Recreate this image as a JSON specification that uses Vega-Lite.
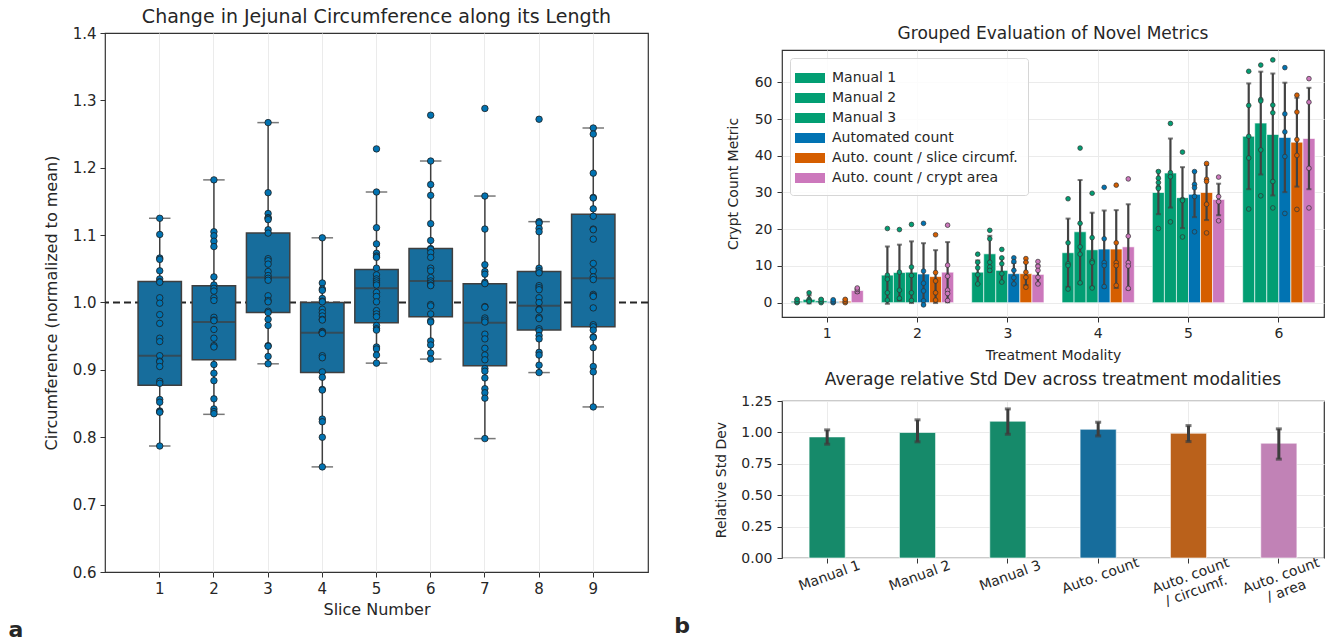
{
"$schema": "https://vega.github.io/schema/vega-lite/v6.json",
"padding": {"left": 8, "top": 7, "right": 4, "bottom": 2},
"config": {
 "font": "DejaVu Sans",
 "view": {"stroke": "#333333", "strokeWidth": 1.2},
 "axis": {"labelFontSize": 14, "titleFontSize": 14, "titleFontWeight": "normal", "labelColor": "#262626", "titleColor": "#262626", "gridColor": "#ebebeb", "gridWidth": 1, "domain": false, "tickColor": "#333333", "tickSize": 5, "labelPadding": 4, "labelOverlap": false},
 "title": {"fontSize": 17, "fontWeight": "normal", "color": "#262626", "offset": 8}
},
"align": "none",
"resolve": {"scale": {"color": "independent", "fill": "independent"}, "legend": {"color": "independent", "fill": "independent"}},
"spacing": 24,
"datasets": {
 "slices": [
  {"slice": 1, "q1": 0.877, "median": 0.921, "q3": 1.031, "lo": 0.787, "hi": 1.125},
  {"slice": 2, "q1": 0.915, "median": 0.971, "q3": 1.025, "lo": 0.834, "hi": 1.182},
  {"slice": 3, "q1": 0.985, "median": 1.037, "q3": 1.103, "lo": 0.909, "hi": 1.267},
  {"slice": 4, "q1": 0.896, "median": 0.955, "q3": 1.000, "lo": 0.756, "hi": 1.096},
  {"slice": 5, "q1": 0.970, "median": 1.021, "q3": 1.049, "lo": 0.910, "hi": 1.164},
  {"slice": 6, "q1": 0.979, "median": 1.032, "q3": 1.080, "lo": 0.916, "hi": 1.210},
  {"slice": 7, "q1": 0.906, "median": 0.970, "q3": 1.028, "lo": 0.798, "hi": 1.158},
  {"slice": 8, "q1": 0.959, "median": 0.995, "q3": 1.046, "lo": 0.896, "hi": 1.120},
  {"slice": 9, "q1": 0.964, "median": 1.036, "q3": 1.131, "lo": 0.845, "hi": 1.259}
 ],
 "slicePts": [
  {"slice":1,"value":1.125},{"slice":1,"value":1.101},{"slice":1,"value":1.066},{"slice":1,"value":1.064},{"slice":1,"value":1.047},{"slice":1,"value":1.035},{"slice":1,"value":1.031},{"slice":1,"value":1.030},{"slice":1,"value":1.007},{"slice":1,"value":0.999},{"slice":1,"value":0.982},{"slice":1,"value":0.969},{"slice":1,"value":0.947},{"slice":1,"value":0.942},{"slice":1,"value":0.921},{"slice":1,"value":0.913},{"slice":1,"value":0.912},{"slice":1,"value":0.905},{"slice":1,"value":0.883},{"slice":1,"value":0.880},{"slice":1,"value":0.856},{"slice":1,"value":0.852},{"slice":1,"value":0.839},{"slice":1,"value":0.838},{"slice":1,"value":0.837},{"slice":1,"value":0.787},
  {"slice":2,"value":1.182},{"slice":2,"value":1.105},{"slice":2,"value":1.099},{"slice":2,"value":1.091},{"slice":2,"value":1.083},{"slice":2,"value":1.038},{"slice":2,"value":1.026},{"slice":2,"value":1.021},{"slice":2,"value":1.017},{"slice":2,"value":1.007},{"slice":2,"value":1.003},{"slice":2,"value":0.978},{"slice":2,"value":0.974},{"slice":2,"value":0.973},{"slice":2,"value":0.960},{"slice":2,"value":0.947},{"slice":2,"value":0.936},{"slice":2,"value":0.934},{"slice":2,"value":0.908},{"slice":2,"value":0.895},{"slice":2,"value":0.884},{"slice":2,"value":0.857},{"slice":2,"value":0.842},{"slice":2,"value":0.838},{"slice":2,"value":0.835},
  {"slice":3,"value":1.267},{"slice":3,"value":1.163},{"slice":3,"value":1.132},{"slice":3,"value":1.126},{"slice":3,"value":1.125},{"slice":3,"value":1.123},{"slice":3,"value":1.108},{"slice":3,"value":1.103},{"slice":3,"value":1.065},{"slice":3,"value":1.062},{"slice":3,"value":1.057},{"slice":3,"value":1.046},{"slice":3,"value":1.040},{"slice":3,"value":1.036},{"slice":3,"value":1.033},{"slice":3,"value":1.010},{"slice":3,"value":1.003},{"slice":3,"value":1.001},{"slice":3,"value":0.987},{"slice":3,"value":0.985},{"slice":3,"value":0.975},{"slice":3,"value":0.966},{"slice":3,"value":0.936},{"slice":3,"value":0.935},{"slice":3,"value":0.920},{"slice":3,"value":0.909},
  {"slice":4,"value":1.096},{"slice":4,"value":1.029},{"slice":4,"value":1.020},{"slice":4,"value":1.018},{"slice":4,"value":1.006},{"slice":4,"value":1.002},{"slice":4,"value":1.001},{"slice":4,"value":0.990},{"slice":4,"value":0.985},{"slice":4,"value":0.980},{"slice":4,"value":0.975},{"slice":4,"value":0.974},{"slice":4,"value":0.957},{"slice":4,"value":0.956},{"slice":4,"value":0.955},{"slice":4,"value":0.954},{"slice":4,"value":0.921},{"slice":4,"value":0.918},{"slice":4,"value":0.897},{"slice":4,"value":0.889},{"slice":4,"value":0.871},{"slice":4,"value":0.870},{"slice":4,"value":0.827},{"slice":4,"value":0.823},{"slice":4,"value":0.800},{"slice":4,"value":0.756},
  {"slice":5,"value":1.228},{"slice":5,"value":1.164},{"slice":5,"value":1.111},{"slice":5,"value":1.087},{"slice":5,"value":1.073},{"slice":5,"value":1.069},{"slice":5,"value":1.067},{"slice":5,"value":1.051},{"slice":5,"value":1.041},{"slice":5,"value":1.035},{"slice":5,"value":1.032},{"slice":5,"value":1.029},{"slice":5,"value":1.026},{"slice":5,"value":1.015},{"slice":5,"value":1.009},{"slice":5,"value":1.001},{"slice":5,"value":0.988},{"slice":5,"value":0.983},{"slice":5,"value":0.979},{"slice":5,"value":0.966},{"slice":5,"value":0.961},{"slice":5,"value":0.959},{"slice":5,"value":0.934},{"slice":5,"value":0.931},{"slice":5,"value":0.922},{"slice":5,"value":0.910},
  {"slice":6,"value":1.278},{"slice":6,"value":1.210},{"slice":6,"value":1.175},{"slice":6,"value":1.159},{"slice":6,"value":1.117},{"slice":6,"value":1.092},{"slice":6,"value":1.080},{"slice":6,"value":1.079},{"slice":6,"value":1.074},{"slice":6,"value":1.067},{"slice":6,"value":1.051},{"slice":6,"value":1.047},{"slice":6,"value":1.037},{"slice":6,"value":1.032},{"slice":6,"value":1.029},{"slice":6,"value":1.026},{"slice":6,"value":1.025},{"slice":6,"value":0.997},{"slice":6,"value":0.995},{"slice":6,"value":0.983},{"slice":6,"value":0.973},{"slice":6,"value":0.971},{"slice":6,"value":0.943},{"slice":6,"value":0.937},{"slice":6,"value":0.925},{"slice":6,"value":0.916},
  {"slice":7,"value":1.288},{"slice":7,"value":1.158},{"slice":7,"value":1.109},{"slice":7,"value":1.056},{"slice":7,"value":1.046},{"slice":7,"value":1.042},{"slice":7,"value":1.030},{"slice":7,"value":1.028},{"slice":7,"value":0.994},{"slice":7,"value":0.993},{"slice":7,"value":0.977},{"slice":7,"value":0.974},{"slice":7,"value":0.971},{"slice":7,"value":0.953},{"slice":7,"value":0.946},{"slice":7,"value":0.932},{"slice":7,"value":0.922},{"slice":7,"value":0.915},{"slice":7,"value":0.902},{"slice":7,"value":0.898},{"slice":7,"value":0.888},{"slice":7,"value":0.872},{"slice":7,"value":0.866},{"slice":7,"value":0.858},{"slice":7,"value":0.798},
  {"slice":8,"value":1.272},{"slice":8,"value":1.120},{"slice":8,"value":1.118},{"slice":8,"value":1.110},{"slice":8,"value":1.105},{"slice":8,"value":1.051},{"slice":8,"value":1.047},{"slice":8,"value":1.044},{"slice":8,"value":1.025},{"slice":8,"value":1.022},{"slice":8,"value":1.019},{"slice":8,"value":1.007},{"slice":8,"value":1.000},{"slice":8,"value":0.990},{"slice":8,"value":0.989},{"slice":8,"value":0.978},{"slice":8,"value":0.976},{"slice":8,"value":0.961},{"slice":8,"value":0.958},{"slice":8,"value":0.951},{"slice":8,"value":0.946},{"slice":8,"value":0.926},{"slice":8,"value":0.922},{"slice":8,"value":0.907},{"slice":8,"value":0.896},
  {"slice":9,"value":1.259},{"slice":9,"value":1.250},{"slice":9,"value":1.192},{"slice":9,"value":1.156},{"slice":9,"value":1.155},{"slice":9,"value":1.139},{"slice":9,"value":1.128},{"slice":9,"value":1.109},{"slice":9,"value":1.108},{"slice":9,"value":1.094},{"slice":9,"value":1.058},{"slice":9,"value":1.047},{"slice":9,"value":1.038},{"slice":9,"value":1.034},{"slice":9,"value":1.012},{"slice":9,"value":1.010},{"slice":9,"value":1.009},{"slice":9,"value":0.992},{"slice":9,"value":0.967},{"slice":9,"value":0.964},{"slice":9,"value":0.959},{"slice":9,"value":0.949},{"slice":9,"value":0.948},{"slice":9,"value":0.933},{"slice":9,"value":0.905},{"slice":9,"value":0.897},{"slice":9,"value":0.845}
 ],
 "groups": [
  {"modality":1,"series":"Manual 1","mean":0.4,"lo":-0.1,"hi":0.9},
  {"modality":1,"series":"Manual 2","mean":0.9,"lo":-0.2,"hi":2.0},
  {"modality":1,"series":"Manual 3","mean":0.5,"lo":0.0,"hi":1.0},
  {"modality":1,"series":"Automated count","mean":0.3,"lo":-0.1,"hi":0.7},
  {"modality":1,"series":"Auto. count / slice circumf.","mean":0.4,"lo":-0.1,"hi":0.9},
  {"modality":1,"series":"Auto. count / crypt area","mean":3.3,"lo":2.7,"hi":3.9},
  {"modality":2,"series":"Manual 1","mean":7.5,"lo":-0.3,"hi":15.3},
  {"modality":2,"series":"Manual 2","mean":8.2,"lo":0.6,"hi":15.8},
  {"modality":2,"series":"Manual 3","mean":8.3,"lo":-0.1,"hi":16.7},
  {"modality":2,"series":"Automated count","mean":7.8,"lo":-0.6,"hi":16.2},
  {"modality":2,"series":"Auto. count / slice circumf.","mean":7.1,"lo":-0.1,"hi":14.3},
  {"modality":2,"series":"Auto. count / crypt area","mean":8.3,"lo":0.1,"hi":16.5},
  {"modality":3,"series":"Manual 1","mean":8.3,"lo":5.1,"hi":11.5},
  {"modality":3,"series":"Manual 2","mean":13.3,"lo":8.4,"hi":18.2},
  {"modality":3,"series":"Manual 3","mean":8.8,"lo":5.6,"hi":12.0},
  {"modality":3,"series":"Automated count","mean":7.9,"lo":5.0,"hi":10.8},
  {"modality":3,"series":"Auto. count / slice circumf.","mean":7.9,"lo":4.8,"hi":11.0},
  {"modality":3,"series":"Auto. count / crypt area","mean":7.7,"lo":5.2,"hi":10.2},
  {"modality":4,"series":"Manual 1","mean":13.6,"lo":4.3,"hi":22.9},
  {"modality":4,"series":"Manual 2","mean":19.3,"lo":5.2,"hi":33.4},
  {"modality":4,"series":"Manual 3","mean":14.4,"lo":4.3,"hi":24.5},
  {"modality":4,"series":"Automated count","mean":14.6,"lo":4.1,"hi":25.1},
  {"modality":4,"series":"Auto. count / slice circumf.","mean":14.6,"lo":4.0,"hi":25.2},
  {"modality":4,"series":"Auto. count / crypt area","mean":15.2,"lo":3.6,"hi":26.8},
  {"modality":5,"series":"Manual 1","mean":30.0,"lo":24.1,"hi":35.9},
  {"modality":5,"series":"Manual 2","mean":35.3,"lo":25.9,"hi":44.7},
  {"modality":5,"series":"Manual 3","mean":28.6,"lo":20.3,"hi":36.9},
  {"modality":5,"series":"Automated count","mean":29.5,"lo":23.3,"hi":35.7},
  {"modality":5,"series":"Auto. count / slice circumf.","mean":30.0,"lo":22.5,"hi":37.5},
  {"modality":5,"series":"Auto. count / crypt area","mean":28.1,"lo":23.8,"hi":32.4},
  {"modality":6,"series":"Manual 1","mean":45.3,"lo":30.9,"hi":59.7},
  {"modality":6,"series":"Manual 2","mean":48.9,"lo":34.9,"hi":62.9},
  {"modality":6,"series":"Manual 3","mean":45.8,"lo":29.2,"hi":62.4},
  {"modality":6,"series":"Automated count","mean":45.0,"lo":30.1,"hi":59.9},
  {"modality":6,"series":"Auto. count / slice circumf.","mean":43.7,"lo":31.6,"hi":55.8},
  {"modality":6,"series":"Auto. count / crypt area","mean":44.7,"lo":30.9,"hi":58.5}
 ],
 "groupPts": [
  {"modality":1,"series":"Manual 1","value":0},{"modality":1,"series":"Manual 1","value":0.3},{"modality":1,"series":"Manual 1","value":0.9},
  {"modality":1,"series":"Manual 2","value":2.7},{"modality":1,"series":"Manual 2","value":0.9},{"modality":1,"series":"Manual 2","value":0.6},{"modality":1,"series":"Manual 2","value":0.3},
  {"modality":1,"series":"Manual 3","value":0},{"modality":1,"series":"Manual 3","value":0.4},{"modality":1,"series":"Manual 3","value":0.9},
  {"modality":1,"series":"Automated count","value":0},{"modality":1,"series":"Automated count","value":0.3},{"modality":1,"series":"Automated count","value":0.8},
  {"modality":1,"series":"Auto. count / slice circumf.","value":0},{"modality":1,"series":"Auto. count / slice circumf.","value":0.4},{"modality":1,"series":"Auto. count / slice circumf.","value":0.9},
  {"modality":1,"series":"Auto. count / crypt area","value":3.0},{"modality":1,"series":"Auto. count / crypt area","value":3.6},{"modality":1,"series":"Auto. count / crypt area","value":4.0},
  {"modality":2,"series":"Manual 1","value":20.2},{"modality":2,"series":"Manual 1","value":7.5},{"modality":2,"series":"Manual 1","value":6.4},{"modality":2,"series":"Manual 1","value":2.7},{"modality":2,"series":"Manual 1","value":0.7},
  {"modality":2,"series":"Manual 2","value":19.9},{"modality":2,"series":"Manual 2","value":8.3},{"modality":2,"series":"Manual 2","value":3.4},{"modality":2,"series":"Manual 2","value":1.2},
  {"modality":2,"series":"Manual 3","value":21.3},{"modality":2,"series":"Manual 3","value":9.7},{"modality":2,"series":"Manual 3","value":7.4},{"modality":2,"series":"Manual 3","value":2.7},{"modality":2,"series":"Manual 3","value":0.6},
  {"modality":2,"series":"Automated count","value":21.6},{"modality":2,"series":"Automated count","value":8.6},{"modality":2,"series":"Automated count","value":5.3},{"modality":2,"series":"Automated count","value":3.2},{"modality":2,"series":"Automated count","value":0.5},{"modality":2,"series":"Automated count","value":-0.6},
  {"modality":2,"series":"Auto. count / slice circumf.","value":18.5},{"modality":2,"series":"Auto. count / slice circumf.","value":8.2},{"modality":2,"series":"Auto. count / slice circumf.","value":5.9},{"modality":2,"series":"Auto. count / slice circumf.","value":2.7},{"modality":2,"series":"Auto. count / slice circumf.","value":0.7},
  {"modality":2,"series":"Auto. count / crypt area","value":21.1},{"modality":2,"series":"Auto. count / crypt area","value":10.2},{"modality":2,"series":"Auto. count / crypt area","value":7.2},{"modality":2,"series":"Auto. count / crypt area","value":3.4},{"modality":2,"series":"Auto. count / crypt area","value":2.5},{"modality":2,"series":"Auto. count / crypt area","value":0.6},
  {"modality":3,"series":"Manual 1","value":13.2},{"modality":3,"series":"Manual 1","value":11.0},{"modality":3,"series":"Manual 1","value":9.5},{"modality":3,"series":"Manual 1","value":7.6},{"modality":3,"series":"Manual 1","value":5.1},
  {"modality":3,"series":"Manual 2","value":19.7},{"modality":3,"series":"Manual 2","value":17.4},{"modality":3,"series":"Manual 2","value":11.0},{"modality":3,"series":"Manual 2","value":9.7},{"modality":3,"series":"Manual 2","value":8.8},
  {"modality":3,"series":"Manual 3","value":14.5},{"modality":3,"series":"Manual 3","value":12.2},{"modality":3,"series":"Manual 3","value":10.6},{"modality":3,"series":"Manual 3","value":7.9},{"modality":3,"series":"Manual 3","value":5.6},
  {"modality":3,"series":"Automated count","value":12.2},{"modality":3,"series":"Automated count","value":11.2},{"modality":3,"series":"Automated count","value":8.8},{"modality":3,"series":"Automated count","value":6.8},{"modality":3,"series":"Automated count","value":5.1},
  {"modality":3,"series":"Auto. count / slice circumf.","value":12.0},{"modality":3,"series":"Auto. count / slice circumf.","value":11.0},{"modality":3,"series":"Auto. count / slice circumf.","value":8.3},{"modality":3,"series":"Auto. count / slice circumf.","value":6.9},{"modality":3,"series":"Auto. count / slice circumf.","value":4.2},
  {"modality":3,"series":"Auto. count / crypt area","value":11.2},{"modality":3,"series":"Auto. count / crypt area","value":9.9},{"modality":3,"series":"Auto. count / crypt area","value":8.8},{"modality":3,"series":"Auto. count / crypt area","value":6.9},{"modality":3,"series":"Auto. count / crypt area","value":5.1},
  {"modality":4,"series":"Manual 1","value":28.3},{"modality":4,"series":"Manual 1","value":16.3},{"modality":4,"series":"Manual 1","value":10.6},{"modality":4,"series":"Manual 1","value":10.1},{"modality":4,"series":"Manual 1","value":3.7},
  {"modality":4,"series":"Manual 2","value":42.1},{"modality":4,"series":"Manual 2","value":21.6},{"modality":4,"series":"Manual 2","value":15.2},{"modality":4,"series":"Manual 2","value":13.2},{"modality":4,"series":"Manual 2","value":5.4},
  {"modality":4,"series":"Manual 3","value":29.8},{"modality":4,"series":"Manual 3","value":17.7},{"modality":4,"series":"Manual 3","value":11.3},{"modality":4,"series":"Manual 3","value":10.9},{"modality":4,"series":"Manual 3","value":4.0},
  {"modality":4,"series":"Automated count","value":31.4},{"modality":4,"series":"Automated count","value":17.4},{"modality":4,"series":"Automated count","value":10.9},{"modality":4,"series":"Automated count","value":10.1},{"modality":4,"series":"Automated count","value":4.4},
  {"modality":4,"series":"Auto. count / slice circumf.","value":32.0},{"modality":4,"series":"Auto. count / slice circumf.","value":16.3},{"modality":4,"series":"Auto. count / slice circumf.","value":10.9},{"modality":4,"series":"Auto. count / slice circumf.","value":10.1},{"modality":4,"series":"Auto. count / slice circumf.","value":4.7},
  {"modality":4,"series":"Auto. count / crypt area","value":33.7},{"modality":4,"series":"Auto. count / crypt area","value":18.1},{"modality":4,"series":"Auto. count / crypt area","value":10.9},{"modality":4,"series":"Auto. count / crypt area","value":10.0},{"modality":4,"series":"Auto. count / crypt area","value":3.9},
  {"modality":5,"series":"Manual 1","value":35.7},{"modality":5,"series":"Manual 1","value":33.9},{"modality":5,"series":"Manual 1","value":32.7},{"modality":5,"series":"Manual 1","value":31.4},{"modality":5,"series":"Manual 1","value":31.1},{"modality":5,"series":"Manual 1","value":20.2},
  {"modality":5,"series":"Manual 2","value":48.8},{"modality":5,"series":"Manual 2","value":35.4},{"modality":5,"series":"Manual 2","value":34.3},{"modality":5,"series":"Manual 2","value":22.0},
  {"modality":5,"series":"Manual 3","value":41.0},{"modality":5,"series":"Manual 3","value":28.1},{"modality":5,"series":"Manual 3","value":27.8},{"modality":5,"series":"Manual 3","value":17.9},
  {"modality":5,"series":"Automated count","value":35.7},{"modality":5,"series":"Automated count","value":32.2},{"modality":5,"series":"Automated count","value":31.3},{"modality":5,"series":"Automated count","value":28.9},{"modality":5,"series":"Automated count","value":19.3},
  {"modality":5,"series":"Auto. count / slice circumf.","value":37.9},{"modality":5,"series":"Auto. count / slice circumf.","value":33.6},{"modality":5,"series":"Auto. count / slice circumf.","value":33.0},{"modality":5,"series":"Auto. count / slice circumf.","value":26.8},{"modality":5,"series":"Auto. count / slice circumf.","value":19.0},
  {"modality":5,"series":"Auto. count / crypt area","value":34.2},{"modality":5,"series":"Auto. count / crypt area","value":28.9},{"modality":5,"series":"Auto. count / crypt area","value":27.5},{"modality":5,"series":"Auto. count / crypt area","value":22.3},
  {"modality":6,"series":"Manual 1","value":63.0},{"modality":6,"series":"Manual 1","value":53.7},{"modality":6,"series":"Manual 1","value":45.3},{"modality":6,"series":"Manual 1","value":39.4},{"modality":6,"series":"Manual 1","value":25.5},
  {"modality":6,"series":"Manual 2","value":64.7},{"modality":6,"series":"Manual 2","value":55.3},{"modality":6,"series":"Manual 2","value":54.9},{"modality":6,"series":"Manual 2","value":41.6},{"modality":6,"series":"Manual 2","value":29.1},
  {"modality":6,"series":"Manual 3","value":66.1},{"modality":6,"series":"Manual 3","value":53.8},{"modality":6,"series":"Manual 3","value":51.7},{"modality":6,"series":"Manual 3","value":33.0},{"modality":6,"series":"Manual 3","value":25.8},
  {"modality":6,"series":"Automated count","value":64.0},{"modality":6,"series":"Automated count","value":51.4},{"modality":6,"series":"Automated count","value":46.5},{"modality":6,"series":"Automated count","value":39.8},{"modality":6,"series":"Automated count","value":24.3},
  {"modality":6,"series":"Auto. count / slice circumf.","value":56.5},{"modality":6,"series":"Auto. count / slice circumf.","value":51.9},{"modality":6,"series":"Auto. count / slice circumf.","value":44.4},{"modality":6,"series":"Auto. count / slice circumf.","value":40.1},{"modality":6,"series":"Auto. count / slice circumf.","value":25.4},
  {"modality":6,"series":"Auto. count / crypt area","value":61.0},{"modality":6,"series":"Auto. count / crypt area","value":54.6},{"modality":6,"series":"Auto. count / crypt area","value":36.6},{"modality":6,"series":"Auto. count / crypt area","value":25.8}
 ],
 "relstd": [
  {"metric":"Manual 1","mean":0.964,"lo":0.906,"hi":1.020},
  {"metric":"Manual 2","mean":0.999,"lo":0.925,"hi":1.100},
  {"metric":"Manual 3","mean":1.089,"lo":0.985,"hi":1.187},
  {"metric":"Auto. count","mean":1.025,"lo":0.972,"hi":1.081},
  {"metric":"Auto. count|/ circumf.","mean":0.993,"lo":0.927,"hi":1.054},
  {"metric":"Auto. count|/ area","mean":0.914,"lo":0.787,"hi":1.028}
 ]
},
"hconcat": [
 {
  "title": {"text": "a", "orient": "bottom", "anchor": "start", "fontSize": 22, "fontWeight": "bold", "offset": 2, "dx": -34},
  "vconcat": [
   {
    "width": 543, "height": 539,
    "title": {"text": "Change in Jejunal Circumference along its Length", "fontSize": 19, "offset": -1},
    "layer": [
     {"data": {"values": [{}]}, "mark": {"type": "rule", "strokeDash": [7, 4], "strokeWidth": 2, "color": "#262626"}, "encoding": {"y": {"datum": 1, "type": "quantitative"}}},
     {"data": {"name": "slices"}, "mark": {"type": "rule", "color": "#3f3f3f", "strokeWidth": 1.5},
      "encoding": {
       "x": {"field": "slice", "type": "ordinal", "scale": {"paddingInner": 0.2, "paddingOuter": 0.61}, "axis": {"title": "Slice Number", "labelAngle": 0, "grid": true, "labelFontSize": 15, "titleFontSize": 16, "titlePadding": 5}},
       "y": {"field": "lo", "type": "quantitative", "scale": {"domain": [0.6, 1.4], "nice": false, "zero": false}, "axis": {"title": "Circumference (normalized to mean)", "values": [0.6, 0.7, 0.8, 0.9, 1.0, 1.1, 1.2, 1.3, 1.4], "format": ".1f", "labelFontSize": 15, "titleFontSize": 16, "titlePadding": 13, "labelOverlap": false}},
       "y2": {"field": "hi"}}},
     {"data": {"name": "slices"}, "mark": {"type": "bar", "fill": "#176d9c", "stroke": "#3f3f3f", "strokeWidth": 1.5},
      "encoding": {"x": {"field": "slice", "type": "ordinal"}, "y": {"field": "q1", "type": "quantitative"}, "y2": {"field": "q3"}}},
     {"data": {"name": "slices"}, "mark": {"type": "tick", "color": "#3f3f3f", "thickness": 2, "size": 43},
      "encoding": {"x": {"field": "slice", "type": "ordinal"}, "y": {"field": "median", "type": "quantitative"}}},
     {"data": {"name": "slices"}, "mark": {"type": "tick", "color": "#3f3f3f", "thickness": 1.5, "size": 21.5},
      "encoding": {"x": {"field": "slice", "type": "ordinal"}, "y": {"field": "lo", "type": "quantitative"}}},
     {"data": {"name": "slices"}, "mark": {"type": "tick", "color": "#3f3f3f", "thickness": 1.5, "size": 21.5},
      "encoding": {"x": {"field": "slice", "type": "ordinal"}, "y": {"field": "hi", "type": "quantitative"}}},
     {"data": {"name": "slicePts"}, "mark": {"type": "circle", "fill": "#0173b2", "stroke": "#1e1e1e", "strokeWidth": 0.8, "size": 42, "opacity": 1},
      "encoding": {"x": {"field": "slice", "type": "ordinal"}, "y": {"field": "value", "type": "quantitative"}}}
    ]
   }
  ]
 },
 {
  "title": {"text": "b", "orient": "bottom", "anchor": "start", "fontSize": 22, "fontWeight": "bold", "offset": 4, "dx": -40},
  "resolve": {"scale": {"color": "independent", "fill": "independent"}, "legend": {"color": "independent", "fill": "independent"}},
  "spacing": 7,
  "vconcat": [
   {
    "width": 542, "height": 1,
    "view": {"stroke": null},
    "title": {"text": "Grouped Evaluation of Novel Metrics", "orient": "bottom", "baseline": "middle", "offset": 0},
    "data": {"values": [{}]},
    "mark": {"type": "rule", "opacity": 0},
    "encoding": {}
   },
   {
    "width": 542, "height": 267,
    "layer": [
     {"data": {"name": "groups"}, "mark": {"type": "bar", "stroke": "white", "strokeWidth": 0.6},
      "encoding": {
       "x": {"field": "modality", "type": "ordinal", "scale": {"paddingInner": 0.2, "paddingOuter": 0.1}, "axis": {"title": "Treatment Modality", "labelAngle": 0, "grid": true, "titlePadding": 8}},
       "xOffset": {"field": "series", "type": "nominal", "scale": {"domain": ["Manual 1", "Manual 2", "Manual 3", "Automated count", "Auto. count / slice circumf.", "Auto. count / crypt area"]}},
       "y": {"field": "mean", "type": "quantitative", "scale": {"domain": [-3.9, 68.8], "nice": false}, "axis": {"title": "Crypt Count Metric", "values": [0, 10, 20, 30, 40, 50, 60], "labelPadding": 5, "titlePadding": 14}},
       "color": {"field": "series", "type": "nominal", "scale": {"domain": ["Manual 1", "Manual 2", "Manual 3", "Automated count", "Auto. count / slice circumf.", "Auto. count / crypt area"], "range": ["#029e73", "#029e73", "#029e73", "#0173b2", "#d55e00", "#cc78bc"]},
        "legend": {"title": null, "orient": "top-left", "offset": 8, "symbolType": "M-1.5,-0.5H1.5V0.5H-1.5Z", "symbolSize": 400, "symbolStrokeWidth": 0, "labelFontSize": 14, "labelColor": "#262626", "labelOffset": 12, "rowPadding": 3, "padding": 10, "fillColor": "rgba(255,255,255,0.85)", "strokeColor": "#d6d6d6", "cornerRadius": 3, "labelLimit": 300}}}},
     {"data": {"name": "groups"}, "mark": {"type": "rule", "color": "#424242", "strokeWidth": 2.2},
      "encoding": {"x": {"field": "modality", "type": "ordinal"}, "xOffset": {"field": "series", "type": "nominal"}, "y": {"field": "lo", "type": "quantitative"}, "y2": {"field": "hi"}}},
     {"data": {"name": "groups"}, "mark": {"type": "tick", "color": "#424242", "thickness": 2, "size": 5},
      "encoding": {"x": {"field": "modality", "type": "ordinal"}, "xOffset": {"field": "series", "type": "nominal"}, "y": {"field": "hi", "type": "quantitative"}}},
     {"data": {"name": "groups"}, "mark": {"type": "tick", "color": "#424242", "thickness": 2, "size": 5},
      "encoding": {"x": {"field": "modality", "type": "ordinal"}, "xOffset": {"field": "series", "type": "nominal"}, "y": {"field": "lo", "type": "quantitative"}}},
     {"data": {"name": "groupPts"}, "mark": {"type": "circle", "size": 22, "stroke": "#333333", "strokeWidth": 0.7, "opacity": 1},
      "encoding": {"x": {"field": "modality", "type": "ordinal"}, "xOffset": {"field": "series", "type": "nominal"}, "y": {"field": "value", "type": "quantitative"},
       "fill": {"field": "series", "type": "nominal", "scale": {"domain": ["Manual 1", "Manual 2", "Manual 3", "Automated count", "Auto. count / slice circumf.", "Auto. count / crypt area"], "range": ["#029e73", "#029e73", "#029e73", "#0173b2", "#d55e00", "#cc78bc"]}, "legend": null}}}
    ]
   },
   {
    "width": 542, "height": 157,
    "title": {"text": "Average relative Std Dev across treatment modalities", "offset": 5},
    "layer": [
     {"data": {"name": "relstd"}, "mark": {"type": "bar", "stroke": "white", "strokeWidth": 0.6},
      "encoding": {
       "x": {"field": "metric", "type": "ordinal", "sort": null, "scale": {"paddingInner": 0.6, "paddingOuter": 0.3}, "axis": {"title": null, "labelAngle": -20, "labelAlign": "center", "labelBaseline": "top", "labelPadding": 6, "labelExpr": "split(datum.label, '|')", "grid": true}},
       "y": {"field": "mean", "type": "quantitative", "scale": {"domain": [0, 1.25], "nice": false}, "axis": {"title": "Relative Std Dev", "values": [0, 0.25, 0.5, 0.75, 1.0, 1.25], "format": ".2f", "labelOverlap": false, "labelPadding": 5, "titlePadding": 12}},
       "color": {"field": "metric", "type": "nominal", "sort": null, "scale": {"range": ["#168a6a", "#168a6a", "#168a6a", "#176d9c", "#ba611b", "#c182b6"]}, "legend": null}}},
     {"data": {"name": "relstd"}, "mark": {"type": "rule", "color": "#3d3d3d", "strokeWidth": 3},
      "encoding": {"x": {"field": "metric", "type": "ordinal", "sort": null}, "y": {"field": "lo", "type": "quantitative", "axis": {"title": "Relative Std Dev", "values": [0, 0.25, 0.5, 0.75, 1.0, 1.25], "format": ".2f", "labelOverlap": false, "labelPadding": 5, "titlePadding": 12}}, "y2": {"field": "hi"}}},
     {"data": {"name": "relstd"}, "mark": {"type": "tick", "color": "#3d3d3d", "thickness": 3, "size": 6},
      "encoding": {"x": {"field": "metric", "type": "ordinal", "sort": null}, "y": {"field": "hi", "type": "quantitative", "axis": {"title": "Relative Std Dev", "values": [0, 0.25, 0.5, 0.75, 1.0, 1.25], "format": ".2f", "labelOverlap": false, "labelPadding": 5, "titlePadding": 12}}}},
     {"data": {"name": "relstd"}, "mark": {"type": "tick", "color": "#3d3d3d", "thickness": 3, "size": 6},
      "encoding": {"x": {"field": "metric", "type": "ordinal", "sort": null}, "y": {"field": "lo", "type": "quantitative", "axis": {"title": "Relative Std Dev", "values": [0, 0.25, 0.5, 0.75, 1.0, 1.25], "format": ".2f", "labelOverlap": false, "labelPadding": 5, "titlePadding": 12}}}}
    ]
   }
  ]
 }
]
}
